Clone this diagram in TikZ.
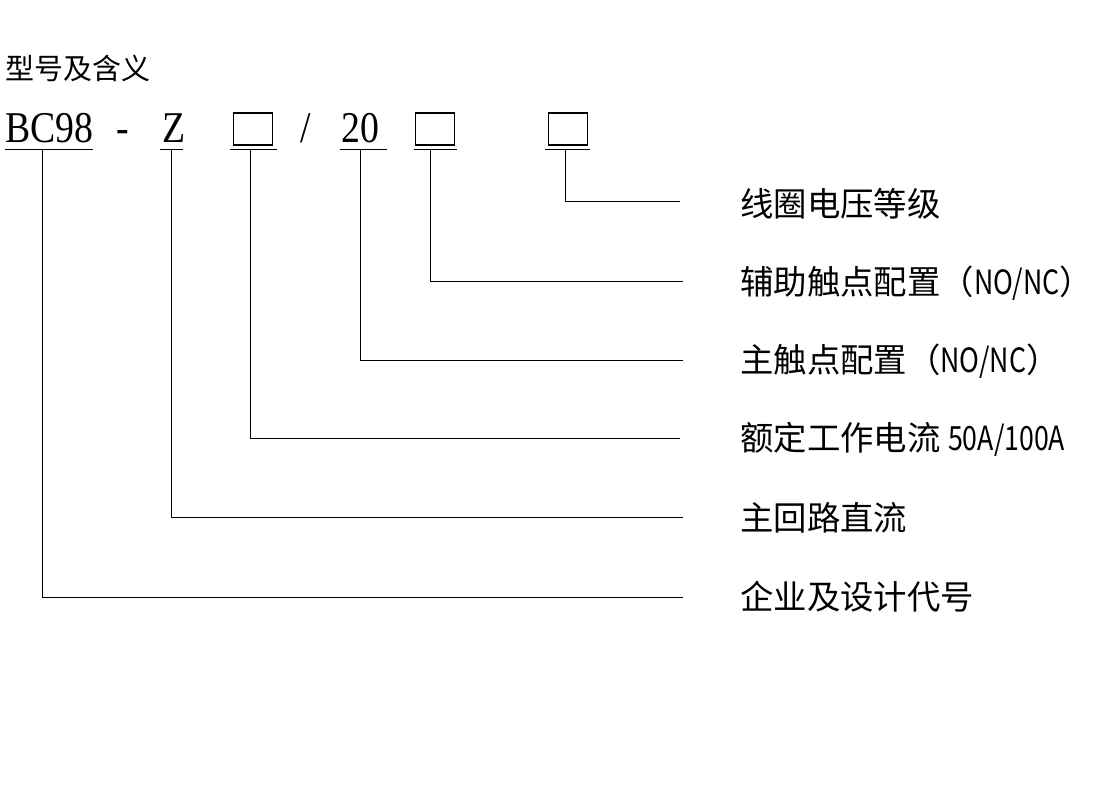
\documentclass[tikz,border=0pt]{standalone}
\usepackage{fontspec}
\usepackage{graphicx}
\setmainfont{Liberation Serif}
\newfontfamily\cjk{Noto Sans CJK SC}
\newcommand{\narrowtxt}[1]{\scalebox{0.8}[1]{#1}}
\usetikzlibrary{positioning}
\tikzset{
  code/.style={inner sep=0pt, anchor=base west, font=\fontsize{25}{25}\selectfont, xscale=0.86},
  slot/.style={draw, semithick, minimum width=0.78cm, minimum height=0.64cm, inner sep=0pt},
  meaning/.style={inner sep=0pt, anchor=west, font=\cjk\fontsize{19}{19}\selectfont},
  leader/.style={thin}
}
\begin{document}
\begin{tikzpicture}[x=0.02cm, y=-0.02cm]
\useasboundingbox (0,0) rectangle (1100,794);

% Title
\node[inner sep=0pt, anchor=west, font=\cjk\fontsize{16.5}{16.5}\selectfont] (title) at (5,68) {型号及含义};

% Model code
\node[code] (bc) at (5,143) {BC98};
\node[code] (dash) at (116,143) {-};
\node[code] (z) at (162,143) {Z};
\node[slot] (s1) at (253,129) {};
\node[code] (sl) at (300,143) {/};
\node[code] (n20) at (341,143) {20};
\node[slot] (s2) at (435,129) {};
\node[slot] (s3) at (568,129) {};

% Underlines
\draw (5,149) -- (93,149);
\draw (160,149) -- (183,149);
\draw (230,149) -- (277,149);
\draw (340,149) -- (387,149);
\draw (414,149) -- (457,149);
\draw (545,149) -- (590,149);

% Meanings
\node[meaning] (m1) at (740,204) {线圈电压等级};
\node[meaning] (m2) at (740,283) {辅助触点配置（\narrowtxt{NO/NC}）};
\node[meaning] (m3) at (740,361) {主触点配置（\narrowtxt{NO/NC}）};
\node[meaning] (m4) at (740,439) {额定工作电流 \narrowtxt{50A/100A}};
\node[meaning] (m5) at (740,518) {主回路直流};
\node[meaning] (m6) at (740,597) {企业及设计代号};

% Leaders
\coordinate (e1) at (680,201);
\coordinate (e2) at (683,281);
\coordinate (e3) at (683,360);
\coordinate (e4) at (680,438);
\coordinate (e5) at (683,517);
\coordinate (e6) at (683,597);
\draw[leader] (565,149) |- (e1);
\draw[leader] (430,149) |- (e2);
\draw[leader] (360,149) |- (e3);
\draw[leader] (250,149) |- (e4);
\draw[leader] (171,149) |- (e5);
\draw[leader] (42,149) |- (e6);
\end{tikzpicture}
\end{document}
